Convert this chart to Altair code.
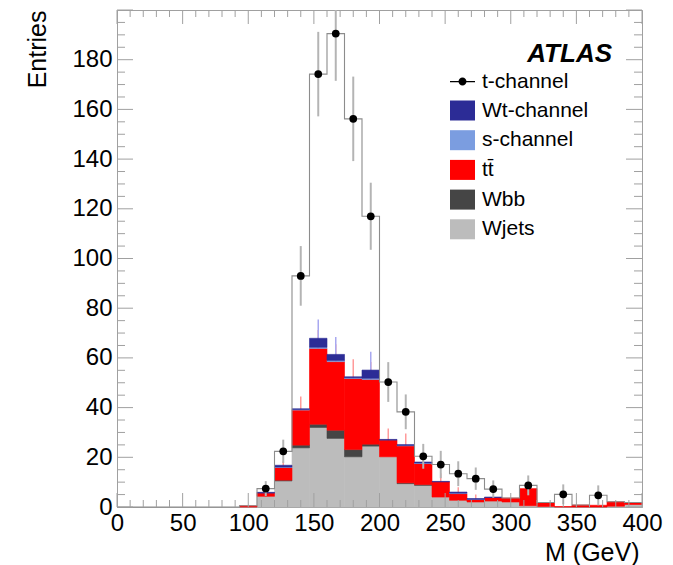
import altair as alt
import pandas as pd
import numpy as np

# ---------------- data (30 bins, 0-400 GeV) ----------------
n_bins = 30
x_min, x_max = 0, 400
wjets = [0, 0, 0, 0, 0, 0, 0, 0, 4.3, 10.5, 23.8, 32.0, 27.6, 20.2, 24.5, 20.2, 9.4, 8.7, 4.0, 2.7, 2.0, 2.4, 2.0, 0.5, 0.2, 0, 0, 0, 0.3, 1.0]
wbb = [0, 0, 0, 0, 0, 0, 0, 0, 0, 0.3, 1.1, 1.3, 3.3, 2.9, 0.8, 0, 0.3, 0.3, 0, 0, 0, 0, 0, 0, 0, 0, 0, 0, 0, 0]
ttbar = [0, 0, 0, 0, 0, 0, 0, 0.5, 1.3, 5.1, 14.1, 30.5, 27.6, 28.6, 26.0, 6.7, 14.9, 8.5, 6.1, 2.7, 1.0, 1.4, 1.6, 6.9, 1.6, 0.2, 0.8, 0.7, 1.8, 0.8]
schan = [0, 0, 0, 0, 0, 0, 0, 0, 0, 0.2, 0.3, 0.5, 0.5, 0.3, 0.5, 0, 0.2, 0.2, 0, 0.2, 0.1, 0, 0, 0, 0, 0, 0, 0, 0, 0]
wtchan = [0, 0, 0, 0, 0, 0, 0, 0, 0.3, 0.7, 0.2, 3.6, 2.4, 0.4, 3.3, 0.3, 0.3, 0.4, 0.2, 0.4, 0.3, 0.2, 0, 0, 0, 0, 0, 0, 0, 0]
tchan = [0, 0, 0, 0, 0, 0, 0, 0, 1.5, 5.6, 53.5, 106.3, 129.1, 103.8, 61.9, 23.1, 13.2, 2.3, 6.8, 7.4, 8.0, 3.2, 0, 1.3, 0, 4.9, 0, 4.0, 0, 0]
# error half-lengths on the t-channel points (None = no point drawn)
dot_err = [None, None, None, None, None, None, None, None, 3.0, 4.7, 12.0, 17.0, 19.0, 17.0, 13.5, 8.0, 7.0, 5.0, 5.5, 5.0, 4.5, 3.5, None, 4.0, None, 4.0, None, 4.0, None, None]
# error half-lengths on the ttbar top and on the Wt top
tt_err = [None, None, None, None, None, None, None, None, 1.5, 2.5, 5.5, 7.4, 7.0, 7.8, 7.0, 4.7, 5.0, 4.0, 3.5, 2.5, 2.0, None, None, None, None, None, None, None, None, None]
wt_err = [None, None, None, None, None, None, None, None, None, None, None, 7.6, 7.0, None, 7.4, None, None, None, None, None, None, None, None, None, None, None, None, None, None, None]

comp_names = ["Wjets", "Wbb", "tt\u0304", "s-channel", "Wt-channel"]  # bottom -> top
comp_colors = ["#bcbcbc", "#454545", "#ff0000", "#7b9de0", "#2c2c96"]
comp_vals = [wjets, wbb, ttbar, schan, wtchan]
legend_order = ["Wt-channel", "s-channel", "tt\u0304", "Wbb", "Wjets"]

x_major = list(range(0, 401, 50))
x_minor = [v for v in range(0, 401, 10) if v % 50]
y_major = list(range(0, 201, 20))
y_minor = [v for v in range(0, 201, 5) if v % 20]
y_labels = list(range(0, 181, 20))

# ---------------- derived tables ----------------
width_bin = (x_max - x_min) / n_bins
lo = np.array([x_min + i * width_bin for i in range(n_bins)])
hi = lo + width_bin
center = lo + width_bin / 2

rows = []
cum = np.zeros(n_bins)
tt_top = np.zeros(n_bins)
for name, vals in zip(comp_names, comp_vals):
    v = np.array(vals, dtype=float)
    for i in range(n_bins):
        if v[i] > 0:
            rows.append(dict(comp=name, lo=lo[i], hi=hi[i], y0=cum[i], y1=cum[i] + v[i]))
    if name == "tt\u0304":
        tt_top = cum + v
    cum = cum + v
stack_df = pd.DataFrame(rows)
stack_top = cum.copy()
total = cum + np.array(tchan, dtype=float)

outline_df = pd.DataFrame({"x": list(lo) + [x_max], "y": list(total) + [total[-1]]})

dots = pd.DataFrame({"x": center, "y": total, "e": dot_err}).dropna()
dots["ylo"] = dots["y"] - dots["e"]
dots["yhi"] = (dots["y"] + dots["e"]).clip(upper=200)

tte = pd.DataFrame({"x": center, "y": tt_top, "e": tt_err}).dropna()
tte["ylo"] = tte["y"] - tte["e"]
tte["yhi"] = tte["y"] + tte["e"]
wte = pd.DataFrame({"x": center, "y": stack_top, "e": wt_err}).dropna()
wte["ylo"] = wte["y"] - wte["e"]
wte["yhi"] = wte["y"] + wte["e"]

FONT = "Liberation Sans"
AX = "#a0a0a0"
xscale = alt.Scale(domain=[x_min, x_max], nice=False, zero=False)
yscale = alt.Scale(domain=[0, 200], nice=False)

x_axis = alt.Axis(values=x_major, ticks=False, grid=False, domainColor=AX, labelFont=FONT,
                  labelFontSize=24, labelColor="black", labelPadding=4, labelFlush=False,
                  labelOverlap=False, title="M (GeV)", titleFont=FONT, titleFontSize=25,
                  titleFontWeight="normal", titleColor="black", titleX=522, titleY=53,
                  titleAlign="right", titleBaseline="alphabetic")
y_axis = alt.Axis(values=y_labels, ticks=False, grid=False, domainColor=AX, labelFont=FONT,
                  labelFontSize=24, labelColor="black", labelPadding=5, labelFlush=False,
                  labelOverlap=False, title="Entries", titleFont=FONT, titleFontSize=25,
                  titleFontWeight="normal", titleColor="black", titleX=-80, titleY=0,
                  titleAngle=270, titleAlign="right", titleBaseline="middle")


def X(field):
    return alt.X(field, scale=xscale, axis=x_axis)


def Y(field):
    return alt.Y(field, scale=yscale, axis=y_axis)


rect_path = "M-1,-0.8H1V0.8H-1Z"
stack = alt.Chart(stack_df).mark_rect(strokeWidth=0.6).encode(
    x=X("lo:Q"),
    x2="hi:Q",
    y=Y("y0:Q"),
    y2="y1:Q",
    color=alt.Color("comp:N", scale=alt.Scale(domain=comp_names, range=comp_colors),
                    legend=alt.Legend(orient="none", legendX=333, legendY=88, title=None,
                                      values=legend_order, symbolType=rect_path, symbolSize=625,
                                      symbolStrokeWidth=0, symbolOpacity=1, labelFont=FONT,
                                      labelFontSize=21, labelColor="black", labelOffset=7,
                                      rowPadding=6.7, padding=0)),
    stroke=alt.Stroke("comp:N", scale=alt.Scale(domain=comp_names, range=comp_colors), legend=None),
)

tt_err_layer = alt.Chart(tte).mark_rule(color="#ff9a9a", strokeWidth=1.5).encode(
    x=X("x:Q"), y=Y("ylo:Q"), y2="yhi:Q")
wt_err_layer = alt.Chart(wte).mark_rule(color="#a8a8f0", strokeWidth=1.5).encode(
    x=X("x:Q"), y=Y("ylo:Q"), y2="yhi:Q")

outline = alt.Chart(outline_df).mark_line(interpolate="step-after", color="#8c8c8c", strokeWidth=1.1).encode(
    x=X("x:Q"), y=Y("y:Q"))

dot_err_layer = alt.Chart(dots).mark_rule(color="#b4b4b4", strokeWidth=2).encode(
    x=X("x:Q"), y=Y("ylo:Q"), y2="yhi:Q")
dot_layer = alt.Chart(dots).mark_circle(color="black", opacity=1, size=60).encode(
    x=X("x:Q"), y=Y("y:Q"))

# legend entry for the t-channel points (the mark itself lies outside the clipped view)
tpath = ("M-1,-0.05H1V0.05H-1Z"
         "M-0.32,0A0.32,0.32,0,1,1,0.32,0A0.32,0.32,0,1,1,-0.32,0Z")
legend_pt = alt.Chart(pd.DataFrame({"series": ["t-channel"], "x": [200], "y": [1000]})).mark_point(
    filled=True, clip=True, color="black", opacity=1, size=625).encode(
    x=X("x:Q"), y=Y("y:Q"),
    shape=alt.Shape("series:N", scale=alt.Scale(domain=["t-channel"], range=[tpath]),
                    legend=alt.Legend(orient="none", legendX=333, legendY=59, title=None,
                                      symbolSize=625, symbolFillColor="black", symbolStrokeColor="black",
                                      symbolStrokeWidth=0, symbolOpacity=1, labelFont=FONT,
                                      labelFontSize=21, labelColor="black", labelOffset=7, padding=0)))


# ticks pointing into the frame
def yticks(vals, x0, x1):
    return alt.Chart(pd.DataFrame({"v": vals})).mark_rule(color=AX, strokeWidth=1).encode(
        y=Y("v:Q"), x=alt.value(x0), x2=alt.value(x1))


def xticks(vals, y0, y1):
    return alt.Chart(pd.DataFrame({"v": vals})).mark_rule(color=AX, strokeWidth=1).encode(
        x=X("v:Q"), y=alt.value(y0), y2=alt.value(y1))


W, H = 525, 497
ticks = [
    yticks(y_major, 0, 16), yticks(y_minor, 0, 8),
    yticks(y_major, W, W - 16), yticks(y_minor, W, W - 8),
    xticks(x_major, H, H - 14), xticks(x_minor, H, H - 7),
    xticks(x_major, 0, 14), xticks(x_minor, 0, 7),
]

atlas = alt.Chart(pd.DataFrame({"t": ["ATLAS"]})).mark_text(
    font=FONT, fontSize=26, fontWeight="bold", fontStyle="italic", align="right",
    baseline="alphabetic", color="black").encode(
    text="t:N", x=alt.value(495), y=alt.value(52))

chart = alt.layer(
    tt_err_layer, wt_err_layer, stack, outline, dot_err_layer, dot_layer, legend_pt, *ticks, atlas
).properties(
    width=W, height=H,
    autosize=alt.AutoSizeParams(type="none"),
    padding={"left": 117, "top": 10, "right": 31, "bottom": 58},
    background="white",
).configure_view(stroke=AX, strokeWidth=1)

chart.save("out.html", embed_options={"renderer": "svg", "actions": False})
